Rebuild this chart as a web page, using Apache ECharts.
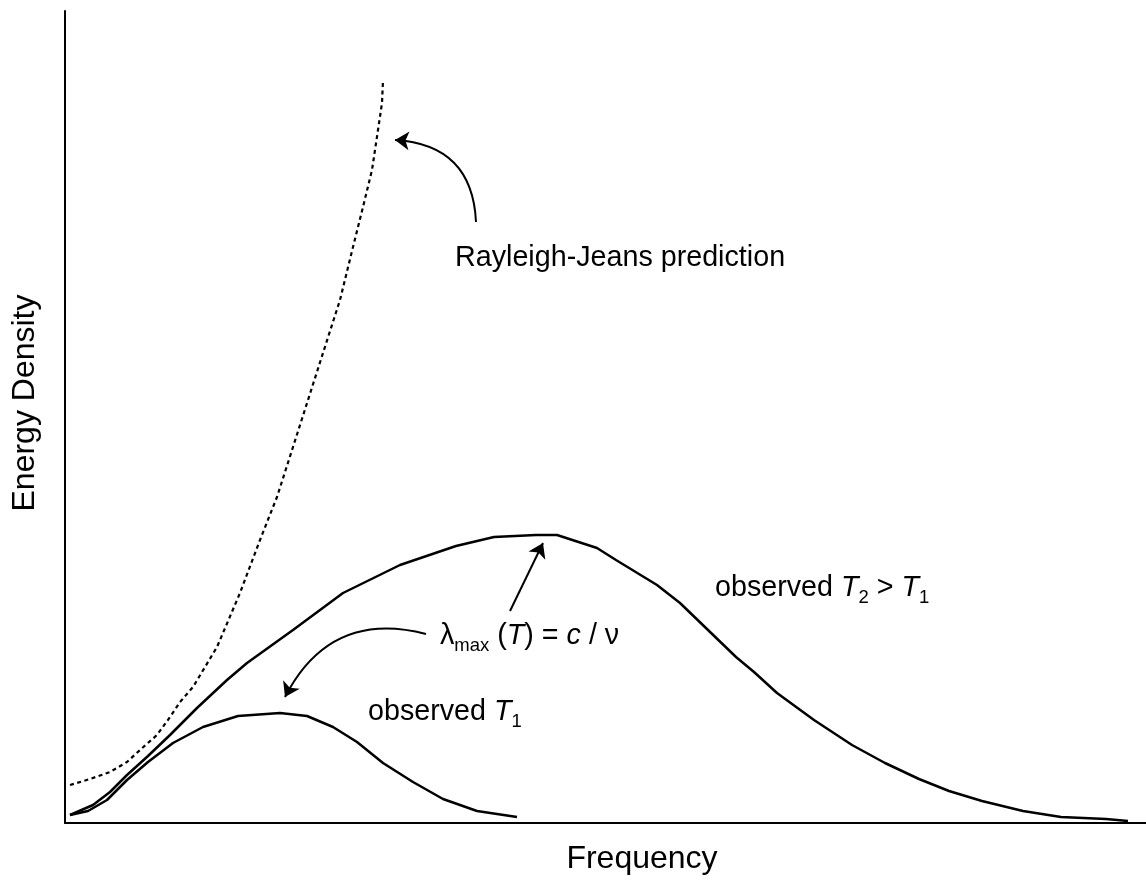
<!DOCTYPE html>
<html>
<head>
<meta charset="utf-8">
<title>Blackbody spectrum</title>
<script src="https://cdn.jsdelivr.net/npm/echarts@6/dist/echarts.min.js"></script>
<style>
  html, body { margin: 0; padding: 0; background: #fff; }
  #chart { width: 1146px; height: 888px; }
</style>
</head>
<body>
<div id="chart"></div>
<script>
var FONT = '"Liberation Sans", Arial, Helvetica, sans-serif';

// [frequency, energy density] in arbitrary units
var observedT1 = [
    [5, 8], [23, 12], [42, 23], [62, 43], [83, 61], [108, 80], [138, 96],
    [173, 107], [215, 110], [242, 107], [268, 96], [292, 81], [318, 60],
    [348, 41], [378, 24], [412, 12], [452, 6]
];
var observedT2 = [
    [5, 8], [28, 18], [45, 31], [62, 48], [83, 67], [105, 88], [132, 115],
    [162, 143], [182, 160], [228, 193], [278, 230], [335, 258], [391, 277],
    [429, 286], [471, 288], [492, 288], [532, 275], [551, 263], [592, 238],
    [615, 220], [671, 166], [689, 151], [712, 130], [749, 103], [787, 78],
    [820, 60], [854, 44], [884, 32], [917, 22], [958, 12], [996, 6],
    [1041, 4], [1063, 2]
];
var rayleighJeans = [
    [5, 38], [25, 44], [45, 51], [62, 61], [75, 73], [92, 88], [105, 106],
    [115, 121], [128, 136], [152, 176], [175, 230], [195, 283], [212, 326],
    [228, 376], [243, 423], [258, 470], [275, 523], [288, 576], [298, 616],
    [307, 653], [313, 693], [317, 720], [318, 743]
];

var xMax = 1081;
var yMax = 812;
var xTitle = 'Frequency';
var yTitle = 'Energy Density';

// annotation arrows: start, end (data units), bend
var arrowRJ = [[411, 601], [330, 683], -0.45];
var arrowT1 = [[361, 189], [220, 126], -0.4];
var arrowT2 = [[445, 212], [478, 280], 0];

// annotation text anchors (left edge, vertical middle)
var labelRJ = [390, 565];
var labelWien = [375, 187];
var labelT1 = [303, 111];
var labelT2 = [650, 235];

var myChart = echarts.init(document.getElementById('chart'));

var textBase = { fontFamily: FONT, fontSize: 28.7, color: '#000', lineHeight: 38 };
var rich = {
    n: textBase,
    i: Object.assign({}, textBase, { fontStyle: 'italic' }),
    sub: { fontFamily: FONT, fontSize: 18.5, color: '#000', lineHeight: 18, verticalAlign: 'bottom' }
};

function note(pos, text) {
    return {
        value: pos,
        label: { formatter: text }
    };
}

function arrow(a) {
    return { coords: [a[0], a[1]], lineStyle: { curveness: a[2] } };
}

var titleFont = '32px ' + FONT;

myChart.setOption({
    animation: false,
    backgroundColor: '#fff',
    grid: { left: 65, right: 0, top: 11, bottom: 65, outerBoundsMode: 'none', containLabel: false },
    xAxis: {
        type: 'value', min: 0, max: xMax,
        axisLine: { show: true, lineStyle: { color: '#000', width: 2 } },
        axisTick: { show: false }, axisLabel: { show: false }, splitLine: { show: false }
    },
    yAxis: {
        type: 'value', min: 0, max: yMax,
        axisLine: { show: true, lineStyle: { color: '#000', width: 2 } },
        axisTick: { show: false }, axisLabel: { show: false }, splitLine: { show: false }
    },
    graphic: [
        {
            type: 'text', x: 642, y: 859, silent: true,
            style: { text: xTitle, font: titleFont, fill: '#000', align: 'center', verticalAlign: 'middle' }
        },
        {
            type: 'text', x: 25, y: 403, rotation: Math.PI / 2, silent: true,
            style: { text: yTitle, font: titleFont, fill: '#000', align: 'center', verticalAlign: 'middle' }
        }
    ],
    series: [
        {
            name: 'observed T1', type: 'line', data: observedT1,
            showSymbol: false, silent: true,
            lineStyle: { color: '#000', width: 2.5 }
        },
        {
            name: 'observed T2', type: 'line', data: observedT2,
            showSymbol: false, silent: true,
            lineStyle: { color: '#000', width: 2.5 }
        },
        {
            name: 'Rayleigh-Jeans', type: 'line', data: rayleighJeans,
            showSymbol: false, silent: true,
            lineStyle: { color: '#000', width: 2.2, type: [4, 3.5] }
        },
        {
            type: 'lines', coordinateSystem: 'cartesian2d', silent: true,
            symbol: ['none', 'arrow'], symbolSize: 14,
            lineStyle: { color: '#000', width: 2, opacity: 1 },
            data: [arrow(arrowRJ), arrow(arrowT1), arrow(arrowT2)]
        },
        {
            type: 'scatter', symbolSize: 0, silent: true,
            itemStyle: { opacity: 1 },
            label: { show: true, position: 'right', distance: 0, color: '#000', opacity: 1, rich: rich },
            data: [
                note(labelRJ, '{n|Rayleigh-Jeans prediction}'),
                note(labelWien, '{n|λ}{sub|max}{n| (}{i|T}{n|) = }{i|c}{n| / ν}'),
                note(labelT1, '{n|observed }{i|T}{sub|1}'),
                note(labelT2, '{n|observed }{i|T}{sub|2}{n| > }{i|T}{sub|1}')
            ]
        }
    ]
});
</script>
</body>
</html>
